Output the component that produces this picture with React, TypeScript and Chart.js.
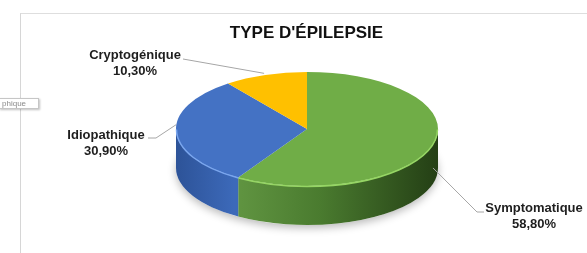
import React, { useEffect, useRef } from "react";
import { Chart, registerables } from "chart.js";

Chart.register(...registerables);

const chartTitle = "TYPE D'ÉPILEPSIE";
const categories = ["Symptomatique", "Idiopathique", "Cryptogénique"];
const percentages = [58.8, 30.9, 10.3];
const valueLabels = ["58,80%", "30,90%", "10,30%"];
const topColors = ["#70AD47", "#4472C4", "#FFC000"];
const sideLight = ["#5f9340", "#3c69b9", "#d9a300"];
const sideDark = ["#243f15", "#2d5398", "#a67c00"];
const rimColors = ["#96d664", "#7aa6ee", "#ffd24d"];

const FONT = '"Liberation Sans", Arial, sans-serif';

export default function App() {
  const ref = useRef<HTMLCanvasElement>(null);

  useEffect(() => {
    const canvas = ref.current;
    if (!canvas) return;

    // ellipse geometry of the 3D pie (screen space)
    const CX = 307, CY = 129, RX = 131, RY = 57, D = 39;

    // label layout: text centre (first line) and leader elbow points
    const labelLayout = [
      { x: 534, y: 208, k: 1.0, drop: 0.6, path: [[477, 212], [484, 212]] },
      { x: 106, y: 135, k: 1.0, drop: -0.18, path: [[156, 138], [148, 138]] },
      { x: 135, y: 55, k: 1.03, drop: 0, path: [[183, 59]] },
    ];

    const getArcs = (chart: any) =>
      chart
        .getDatasetMeta(0)
        .data.map((a: any) =>
          a.getProps(["x", "y", "startAngle", "endAngle", "outerRadius"], true)
        );

    const pie3d = {
      id: "pie3d",
      beforeDatasetsDraw(chart: any) {
        const ctx: CanvasRenderingContext2D = chart.ctx;
        const arcs = getArcs(chart);

        // soft shadow under the pie
        ctx.save();
        ctx.shadowColor = "rgba(0,0,0,0.28)";
        ctx.shadowBlur = 9;
        ctx.shadowOffsetY = 3;
        ctx.beginPath();
        ctx.ellipse(CX, CY + D, RX, RY, 0, 0, Math.PI * 2);
        ctx.fillStyle = "#ffffff";
        ctx.fill();
        ctx.restore();

        // extruded sides (front half only)
        arcs.forEach((a: any, i: number) => {
          const s = Math.max(a.startAngle, 0);
          const e = Math.min(a.endAngle, Math.PI);
          if (e <= s) return;
          const g = ctx.createLinearGradient(CX - RX, 0, CX + RX, 0);
          if (i === 0) {
            g.addColorStop(0, sideLight[i]);
            g.addColorStop(0.25, sideLight[i]);
            g.addColorStop(0.55, "#4a7b2f");
            g.addColorStop(1, sideDark[i]);
          } else {
            g.addColorStop(0, sideDark[i]);
            g.addColorStop(0.22, sideLight[i]);
            g.addColorStop(1, sideLight[i]);
          }
          ctx.beginPath();
          ctx.ellipse(CX, CY, RX, RY, 0, s, e, false);
          ctx.lineTo(CX + RX * Math.cos(e), CY + RY * Math.sin(e) + D);
          ctx.ellipse(CX, CY + D, RX, RY, 0, e, s, true);
          ctx.closePath();
          ctx.fillStyle = g;
          ctx.fill();
        });

        // squash the library's circular pie into the top face ellipse
        const a0 = arcs[0];
        ctx.save();
        ctx.translate(CX, CY);
        ctx.scale(RX / a0.outerRadius, RY / a0.outerRadius);
        ctx.translate(-a0.x, -a0.y);
      },
      afterDatasetsDraw(chart: any) {
        const ctx: CanvasRenderingContext2D = chart.ctx;
        ctx.restore();
        const arcs = getArcs(chart);

        // rim highlight along the front edge
        arcs.forEach((a: any, i: number) => {
          const s = Math.max(a.startAngle, 0);
          const e = Math.min(a.endAngle, Math.PI);
          if (e <= s) return;
          ctx.save();
          ctx.beginPath();
          ctx.ellipse(CX, CY + 0.5, RX - 0.5, RY, 0, s, e, false);
          ctx.strokeStyle = rimColors[i];
          ctx.lineWidth = 1.5;
          ctx.stroke();
          ctx.restore();
        });

        // leader lines and labels
        arcs.forEach((a: any, i: number) => {
          const L = labelLayout[i];
          const m = (a.startAngle + a.endAngle) / 2;
          const ax = CX + RX * L.k * Math.cos(m);
          const ay = CY + RY * L.k * Math.sin(m) + D * L.drop;
          ctx.save();
          ctx.beginPath();
          ctx.moveTo(ax, ay);
          L.path.forEach((p) => ctx.lineTo(p[0], p[1]));
          ctx.strokeStyle = "#a6a6a6";
          ctx.lineWidth = 1;
          ctx.stroke();
          ctx.fillStyle = "#1e1e1e";
          ctx.font = `bold 13px ${FONT}`;
          ctx.textAlign = "center";
          ctx.textBaseline = "middle";
          ctx.fillText(categories[i], L.x, L.y);
          ctx.fillText(valueLabels[i], L.x, L.y + 16);
          ctx.restore();
        });
      },
    };

    const chart = new Chart(canvas, {
      type: "pie",
      data: {
        labels: categories,
        datasets: [
          {
            data: percentages,
            backgroundColor: topColors,
            borderWidth: 0,
          },
        ],
      },
      options: {
        responsive: false,
        animation: false,
        events: [],
        layout: { padding: { left: 26, right: 0, top: 0, bottom: 10 } },
        plugins: {
          legend: { display: false },
          tooltip: { enabled: false },
          title: {
            display: true,
            text: chartTitle,
            color: "#111111",
            font: { family: FONT, size: 17, weight: "bold" },
            padding: { top: 23, bottom: 10 },
          },
        },
      },
      plugins: [pie3d],
    } as any);

    return () => chart.destroy();
  }, []);

  return (
    <div
      style={{
        position: "absolute",
        left: 0,
        top: 0,
        width: 587,
        height: 253,
        background: "#ffffff",
        overflow: "hidden",
      }}
    >
      <div
        style={{
          position: "absolute",
          left: 20,
          top: 13,
          width: 580,
          height: 260,
          borderTop: "1px solid #dedede",
          borderLeft: "1px solid #d6d6d6",
          boxSizing: "border-box",
        }}
      />
      <canvas
        ref={ref}
        width={587}
        height={253}
        style={{ position: "absolute", left: 0, top: 0, width: 587, height: 253 }}
      />
      <div
        style={{
          position: "absolute",
          left: -1,
          top: 98,
          width: 40,
          height: 11,
          background: "#ffffff",
          border: "1px solid #c6c6c6",
          boxShadow: "1px 1px 2px rgba(0,0,0,0.25)",
          boxSizing: "border-box",
          fontFamily: FONT,
          fontSize: 8,
          lineHeight: "9px",
          color: "#8a8a8a",
          paddingLeft: 2,
          overflow: "hidden",
          whiteSpace: "nowrap",
        }}
      >
        phique
      </div>
    </div>
  );
}
